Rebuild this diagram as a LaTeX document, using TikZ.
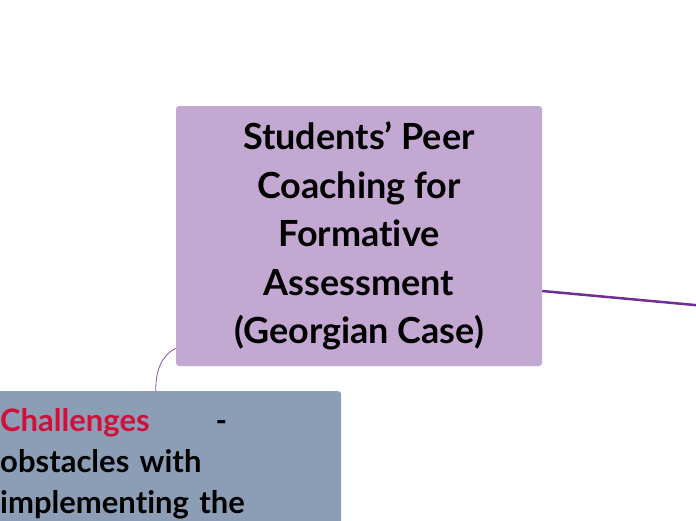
\documentclass[tikz,border=0pt]{standalone}
\usepackage{fontspec}
\setmainfont{Lato}[Ligatures=NoCommon]
\usetikzlibrary{positioning}
\definecolor{rootpurple}{HTML}{C3A8D2}
\definecolor{branchgray}{HTML}{8B9EB5}
\definecolor{linkpurple}{HTML}{6E2E96}
\definecolor{challred}{HTML}{D0103A}
\tikzstyle{topic} = [fill=rootpurple, rounded corners=3pt, align=center, minimum width=366pt, minimum height=260pt, font=\fontsize{36}{48.5}\bfseries\selectfont]
\tikzstyle{branch} = [fill=branchgray, rounded corners=3pt, align=left, text width=321pt, inner xsep=20pt, inner ysep=17pt, font=\fontsize{31}{41}\bfseries\selectfont]
\tikzset{
  link/.style ={draw=linkpurple, line width=2.5pt},
  thinlink/.style ={draw=linkpurple!80, line width=0.8pt}
}

\begin{document}
\begin{tikzpicture}[x=1pt,y=-1pt]
	\useasboundingbox (0,0) rectangle (696,520);
	\clip (0,0) rectangle (696,520);
	\node[topic] (root) at (359,236) {Students’ Peer\\Coaching for\\Formative\\Assessment\\(Georgian Case)};
	\node[branch, anchor=north west] (challenges) at (-20,391) {{\color{challred}Challenges}\hspace{66pt}-\\obstacles with\\implementing the};
	\coordinate (offright) at (760,311);
	\draw[link] ([yshift=-55pt]root.east) -- (offright);
	\draw[thinlink] ([yshift=18pt]root.south west) .. controls +(-15,8) and +(0,-20) .. ([xshift=-5pt]challenges.north);
\end{tikzpicture}
\end{document}
